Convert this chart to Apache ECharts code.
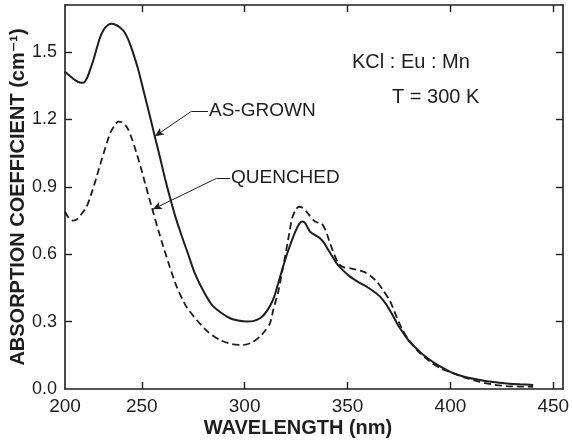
<!DOCTYPE html>
<html>
<head>
<meta charset="utf-8">
<title>KCl:Eu:Mn absorption</title>
<script src="https://cdn.jsdelivr.net/npm/echarts@6/dist/echarts.min.js"></script>
<style>
  html, body { margin: 0; padding: 0; background: #fff; }
  #chart { width: 572px; height: 443px; }
</style>
</head>
<body>
<div id="chart"></div>
<script>
// Absorption spectra at T = 300 K, wavelength in nm, coefficient in cm^-1
const asGrownWavelength = [
  212.7, 215.1, 217.6, 220.0, 221.6, 223.4, 224.8, 226.5, 228.3, 229.7, 231.7, 233.6, 235.4, 237.5, 239.4,
  241.4, 243.3, 245.3, 248.2, 251.6, 254.0, 256.4, 258.9, 261.3, 263.7, 266.1, 269.1, 272.5, 275.9, 280.2,
  284.6, 292.9, 301.0, 304.1, 307.5, 309.9, 312.3, 314.3, 316.2, 318.2, 320.6, 323.0, 325.0, 326.7, 328.2,
  329.3, 330.6, 331.8, 334.2, 336.6, 338.6, 340.5, 342.5, 344.7, 347.8, 351.2, 355.1, 359.3, 362.4, 365.8,
  368.7, 371.6, 374.5, 377.4, 380.3, 385.2, 390.1, 395.4, 401.4, 407.6, 414.3, 420.7, 427.3, 433.7, 440.2
];
const asGrownAbsorption = [
  1.412, 1.393, 1.375, 1.364, 1.363, 1.384, 1.418, 1.464, 1.522, 1.564, 1.602, 1.620, 1.625, 1.620, 1.609,
  1.591, 1.558, 1.509, 1.424, 1.301, 1.213, 1.122, 1.029, 0.937, 0.853, 0.774, 0.690, 0.601, 0.512, 0.432,
  0.369, 0.315, 0.300, 0.302, 0.315, 0.336, 0.369, 0.409, 0.467, 0.530, 0.601, 0.663, 0.708, 0.737, 0.745,
  0.739, 0.719, 0.700, 0.685, 0.671, 0.650, 0.621, 0.592, 0.559, 0.528, 0.500, 0.477, 0.455, 0.436, 0.411,
  0.378, 0.334, 0.285, 0.245, 0.209, 0.165, 0.129, 0.098, 0.070, 0.052, 0.040, 0.031, 0.025, 0.021, 0.018
];

const quenchedWavelength = [
  212.7, 214.6, 216.7, 219.0, 220.9, 223.2, 225.3, 228.1, 230.5, 233.0, 234.8, 236.8, 238.6, 240.4, 242.1,
  243.5, 245.3, 247.5, 249.6, 251.6, 254.8, 258.0, 260.5, 263.7, 267.0, 271.5, 276.7, 282.2, 288.0, 293.9,
  299.3, 303.6, 307.4, 309.8, 312.3, 313.9, 316.3, 318.6, 321.1, 323.1, 325.0, 326.5, 328.3, 330.1, 333.4,
  335.4, 337.4, 339.5, 341.5, 345.5, 348.3, 351.2, 357.7, 360.9, 364.2, 367.2, 370.6, 373.5, 376.4, 379.4,
  384.2, 390.1, 395.4, 401.4, 407.6, 414.3, 420.7, 427.3, 433.7, 440.2
];
const quenchedAbsorption = [
  0.789, 0.761, 0.749, 0.758, 0.781, 0.811, 0.863, 0.945, 1.020, 1.094, 1.142, 1.173, 1.190, 1.187, 1.173,
  1.153, 1.111, 1.049, 0.984, 0.916, 0.811, 0.708, 0.633, 0.541, 0.455, 0.369, 0.307, 0.254, 0.218, 0.200,
  0.196, 0.207, 0.233, 0.258, 0.292, 0.352, 0.432, 0.539, 0.663, 0.761, 0.801, 0.811, 0.806, 0.789, 0.752,
  0.741, 0.737, 0.703, 0.648, 0.559, 0.541, 0.537, 0.522, 0.505, 0.478, 0.441, 0.392, 0.329, 0.269, 0.223,
  0.169, 0.122, 0.091, 0.070, 0.049, 0.032, 0.020, 0.013, 0.011, 0.010
];

// Axis ranges and tick positions
const xMin = 212.7, xMax = 454.7;
const xTicks = [250, 300, 350, 400, 450];
const xOriginLabel = '200';
const yMin = 0, yMax = 1.709;
const yTicks = [0.3, 0.6, 0.9, 1.2, 1.5];
const yLabels = [0, 0.3, 0.6, 0.9, 1.2, 1.5];

// Leader lines from the curve labels to the curves
const asGrownLeader = { elbow: [274.3, 1.237], start: [282.2, 1.237], tip: [256.4, 1.125] };
const quenchedLeader = { elbow: [286.4, 0.938], start: [292.9, 0.938], tip: [255.4, 0.80] };

const ink = '#1e1e1e';
const font = '"Liberation Sans", "DejaVu Sans", Arial, sans-serif';

function zip(xs, ys) { return xs.map((x, i) => [x, ys[i]]); }

function leaderLines(l) {
  return {
    silent: true,
    symbol: ['none', 'none'],
    label: { show: false },
    lineStyle: { color: ink, width: 1, type: 'solid' },
    emphasis: { disabled: true },
    animation: false,
    data: [
      [{ coord: l.start, symbol: 'none' }, { coord: l.elbow, symbol: 'none' }],
      [{ coord: l.elbow, symbol: 'none' }, { coord: l.tip, symbol: 'arrow', symbolSize: [6, 9] }]
    ]
  };
}

const chart = echarts.init(document.getElementById('chart'), null, { renderer: 'canvas' });

const frameAxisCommon = {
  type: 'value',
  axisLine: { show: true, onZero: false, lineStyle: { color: ink, width: 1.6 } },
  splitLine: { show: false }
};
const tickStyle = (values) => ({
  show: true, inside: true, length: 7, customValues: values,
  lineStyle: { color: ink, width: 1.4 }
});

chart.setOption({
  backgroundColor: '#ffffff',
  animation: false,
  textStyle: { fontFamily: font },
  grid: { left: 65, right: 9, top: 5, bottom: 54, containLabel: false, outerBoundsMode: 'none' },
  xAxis: [
    Object.assign({}, frameAxisCommon, {
      position: 'bottom',
      min: xMin, max: xMax,
      axisTick: tickStyle(xTicks),
      axisLabel: {
        show: true,
        customValues: [xMin].concat(xTicks),
        formatter: v => (v < xTicks[0] - 25 ? xOriginLabel : String(Math.round(v))),
        fontSize: 19, color: ink, margin: 8, fontFamily: font
      },
      name: 'WAVELENGTH (nm)',
      nameLocation: 'middle',
      nameGap: 29,
      nameMoveOverlap: false,
      nameTextStyle: { fontSize: 20, fontWeight: 'bold', color: ink, fontFamily: font, padding: [0, 32, 0, 0] }
    }),
    Object.assign({}, frameAxisCommon, {
      position: 'top',
      min: xMin, max: xMax,
      axisTick: tickStyle(xTicks),
      axisLabel: { show: false }
    })
  ],
  yAxis: [
    Object.assign({}, frameAxisCommon, {
      position: 'left',
      min: yMin, max: yMax,
      axisTick: tickStyle(yTicks),
      axisLabel: {
        show: true,
        customValues: yLabels,
        formatter: v => v.toFixed(1),
        fontSize: 18, color: ink, margin: 8, fontFamily: font
      },
      name: 'ABSORPTION COEFFICIENT (cm\u207B\u00B9)',
      nameLocation: 'middle',
      nameRotate: 90,
      nameGap: 37,
      nameMoveOverlap: false,
      nameTextStyle: { fontSize: 20, fontWeight: 'bold', color: ink, fontFamily: font }
    }),
    Object.assign({}, frameAxisCommon, {
      position: 'right',
      min: yMin, max: yMax,
      axisTick: tickStyle(yTicks),
      axisLabel: { show: false }
    })
  ],
  series: [
    {
      name: 'AS-GROWN',
      type: 'line',
      xAxisIndex: 0, yAxisIndex: 0,
      data: zip(asGrownWavelength, asGrownAbsorption),
      smooth: 0.25,
      showSymbol: false,
      lineStyle: { color: ink, width: 2 },
      markLine: leaderLines(asGrownLeader)
    },
    {
      name: 'QUENCHED',
      type: 'line',
      xAxisIndex: 0, yAxisIndex: 0,
      data: zip(quenchedWavelength, quenchedAbsorption),
      smooth: 0.25,
      showSymbol: false,
      lineStyle: { color: ink, width: 1.8, type: [7, 4] },
      markLine: leaderLines(quenchedLeader)
    }
  ],
  graphic: [
    { type: 'text', x: 209, y: 111, style: { text: 'AS-GROWN', font: '19px ' + font, fill: ink, textVerticalAlign: 'middle' } },
    { type: 'text', x: 231, y: 178, style: { text: 'QUENCHED', font: '19px ' + font, fill: ink, textVerticalAlign: 'middle' } },
    { type: 'text', x: 352, y: 62, style: { text: 'KCl : Eu : Mn', font: '20px ' + font, fill: ink, textVerticalAlign: 'middle' } },
    { type: 'text', x: 392, y: 97, style: { text: 'T = 300 K', font: '20px ' + font, fill: ink, textVerticalAlign: 'middle' } }
  ]
});
</script>
</body>
</html>
